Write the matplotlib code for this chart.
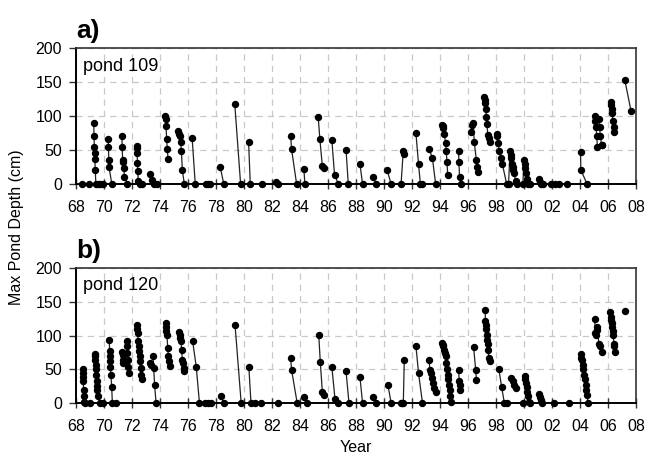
import matplotlib
matplotlib.use('Agg')
import matplotlib.pyplot as plt
import numpy as np

nan = np.nan

# pond 109 - nan separates the seasons
year_109 = [1968.40, nan, 1968.94, nan,
            1969.27, 1969.29, 1969.31, 1969.33, 1969.35, 1969.38, 1969.42, 1969.55, 1969.70, 1969.93, nan,
            1970.30, 1970.32, 1970.34, 1970.36, 1970.56, nan,
            1971.28, 1971.30, 1971.33, 1971.38, 1971.42, 1971.46, 1971.68, nan,
            1972.33, 1972.35, 1972.37, 1972.39, 1972.41, 1972.45, 1972.55, 1972.70, nan,
            1973.27, 1973.40, 1973.60, 1973.80, nan,
            1974.38, 1974.40, 1974.43, 1974.48, 1974.52, 1974.58, nan,
            1975.29, 1975.38, 1975.42, 1975.47, 1975.53, 1975.60, 1975.74, nan,
            1976.30, 1976.52, nan,
            1977.30, 1977.45, 1977.60, nan,
            1978.30, 1978.56, nan,
            1979.34, 1979.76, nan,
            1980.33, 1980.45, nan,
            1981.27, nan,
            1982.28, 1982.45, nan,
            1983.33, 1983.40, 1983.76, nan,
            1984.28, 1984.35, nan,
            1985.30, 1985.42, 1985.60, 1985.70, nan,
            1986.28, 1986.47, 1986.75, nan,
            1987.29, 1987.45, nan,
            1988.28, 1988.47, nan,
            1989.22, 1989.46, nan,
            1990.23, 1990.51, nan,
            1991.22, 1991.38, 1991.45, nan,
            1992.28, 1992.47, 1992.60, 1992.70, nan,
            1993.22, 1993.46, 1993.69, nan,
            1994.16, 1994.20, 1994.25, 1994.30, 1994.40, 1994.45, 1994.50, 1994.55, nan,
            1995.33, 1995.35, 1995.40, 1995.52, nan,
            1996.23, 1996.30, 1996.37, 1996.45, 1996.60, 1996.65, 1996.74, nan,
            1997.17, 1997.20, 1997.23, 1997.27, 1997.30, 1997.35, 1997.42, 1997.50, 1997.58, nan,
            1998.05, 1998.10, 1998.15, 1998.25, 1998.35, 1998.45, 1998.76, nan,
            1998.90, 1999.00, 1999.05, 1999.10, 1999.15, 1999.20, 1999.25, 1999.30, 1999.40, 1999.52, nan,
            1999.92, 2000.00, 2000.05, 2000.10, 2000.15, 2000.20, 2000.30, 2000.45, nan,
            2001.10, 2001.15, 2001.25, 2001.35, nan,
            2001.90, nan, 2002.20, nan, 2002.50, nan, 2003.10, nan,
            2004.04, 2004.06, 2004.50, nan,
            2005.05, 2005.10, 2005.15, 2005.20, 2005.25, nan,
            2005.35, 2005.40, 2005.45, 2005.55, 2005.60, nan,
            2006.20, 2006.23, 2006.27, 2006.30, 2006.35, 2006.40, 2006.45, nan,
            2007.20, 2007.65]
depth_109 = [0, nan, 0, nan,
             89, 71, 54, 45, 37, 20, 0, 0, 0, 0, nan,
             66, 54, 36, 25, 0, nan,
             70, 55, 36, 33, 24, 11, 0, nan,
             56, 53, 46, 31, 19, 4, 0, 0, nan,
             14, 6, 0, 0, nan,
             100, 95, 85, 66, 51, 37, nan,
             78, 73, 70, 62, 49, 20, 0, nan,
             67, 0, nan,
             0, 0, 0, nan,
             25, 0, nan,
             118, 0, nan,
             62, 0, nan,
             0, nan,
             3, 0, nan,
             71, 51, 0, nan,
             22, 0, nan,
             99, 66, 26, 24, nan,
             64, 13, 0, nan,
             50, 0, nan,
             30, 0, nan,
             10, 0, nan,
             20, 0, nan,
             0, 49, 44, nan,
             75, 29, 0, 0, nan,
             52, 38, 0, nan,
             87, 85, 82, 74, 61, 48, 33, 13, nan,
             48, 32, 11, 0, nan,
             77, 87, 89, 62, 35, 25, 18, nan,
             128, 123, 119, 111, 99, 88, 72, 67, 62, nan,
             74, 70, 60, 48, 38, 30, 0, nan,
             0, 48, 43, 38, 30, 25, 21, 16, 4, 0, nan,
             0, 35, 30, 23, 16, 8, 0, 0, nan,
             7, 3, 0, 0, nan,
             0, nan, 0, nan, 0, nan, 0, nan,
             47, 21, 0, nan,
             100, 92, 84, 70, 54, nan,
             96, 84, 70, 58, 57, nan,
             121, 116, 111, 104, 92, 84, 76, nan,
             153, 107]

# pond 120
year_120 = [1968.47, 1968.48, 1968.50, 1968.52, 1968.54, 1968.56, 1968.58, 1968.63, 1968.99, nan,
            1969.34, 1969.36, 1969.38, 1969.40, 1969.42, 1969.44, 1969.47, 1969.50, 1969.52, 1969.55, 1969.70, 1969.90, nan,
            1970.38, 1970.40, 1970.42, 1970.44, 1970.46, 1970.50, 1970.55, 1970.60, 1970.87, nan,
            1971.30, 1971.33, 1971.36, 1971.39, nan,
            1971.62, 1971.65, 1971.68, 1971.71, 1971.74, 1971.78, nan,
            1972.35, 1972.38, 1972.41, 1972.44, 1972.47, 1972.50, 1972.54, 1972.58, 1972.62, 1972.66, 1972.72, nan,
            1973.30, 1973.35, nan,
            1973.50, 1973.55, 1973.62, 1973.72, nan,
            1974.40, 1974.43, 1974.46, 1974.50, 1974.55, 1974.60, 1974.65, 1974.70, nan,
            1975.35, 1975.40, 1975.45, 1975.50, 1975.55, 1975.60, 1975.65, 1975.70, 1975.75, nan,
            1976.33, 1976.59, 1976.82, nan,
            1977.20, 1977.45, 1977.65, nan,
            1978.33, 1978.56, nan,
            1979.36, 1979.80, nan,
            1980.35, 1980.50, nan,
            1980.80, nan, 1981.25, nan, 1982.40, nan,
            1983.33, 1983.40, 1983.80, nan,
            1984.28, 1984.50, nan,
            1985.34, 1985.45, 1985.60, 1985.70, nan,
            1986.28, 1986.50, 1986.75, nan,
            1987.29, 1987.50, nan,
            1988.28, 1988.47, nan,
            1989.22, 1989.46, nan,
            1990.28, 1990.51, nan,
            1991.20, 1991.30, 1991.38, 1991.45, nan,
            1992.28, 1992.47, 1992.75, nan,
            1993.22, 1993.28, 1993.33, 1993.40, 1993.50, 1993.60, 1993.70, nan,
            1994.16, 1994.20, 1994.25, 1994.30, 1994.35, 1994.40, 1994.45, 1994.50, 1994.55, 1994.60, 1994.65, 1994.70, 1994.75, 1994.80, nan,
            1995.33, 1995.38, 1995.42, 1995.46, nan,
            1996.40, 1996.55, 1996.60, nan,
            1997.22, 1997.25, 1997.28, 1997.31, 1997.34, 1997.37, 1997.40, 1997.43, 1997.50, 1997.55, nan,
            1998.20, 1998.40, 1998.60, 1998.80, nan,
            1999.10, 1999.20, 1999.30, 1999.40, nan,
            1999.95, nan,
            2000.05, 2000.10, 2000.15, 2000.20, 2000.25, 2000.30, 2000.35, 2000.40, nan,
            2001.10, 2001.15, 2001.20, 2001.30, nan,
            2002.16, nan, 2003.20, nan,
            2004.04, 2004.10, 2004.15, 2004.20, 2004.25, 2004.30, 2004.35, 2004.40, 2004.45, 2004.50, 2004.58, nan,
            2005.05, 2005.10, 2005.12, 2005.20, 2005.25, 2005.35, 2005.40, 2005.55, nan,
            2006.15, 2006.20, 2006.23, 2006.26, 2006.30, 2006.35, 2006.38, 2006.42, 2006.46, 2006.50, nan,
            2007.22]
depth_120 = [50, 45, 39, 32, 20, 10, 2, 0, 0, nan,
             73, 69, 63, 57, 50, 42, 32, 25, 20, 11, 0, 0, nan,
             94, 77, 69, 62, 54, 41, 24, 0, 0, nan,
             76, 71, 64, 59, nan,
             92, 84, 74, 64, 54, 44, nan,
             116, 110, 104, 92, 84, 77, 69, 62, 52, 41, 36, nan,
             60, 56, nan,
             70, 52, 26, 0, nan,
             118, 113, 106, 101, 82, 69, 62, 55, nan,
             105, 101, 97, 92, 79, 64, 59, 52, 47, nan,
             92, 54, 0, nan,
             0, 0, 0, nan,
             10, 0, nan,
             116, 0, nan,
             53, 0, nan,
             0, nan, 0, nan, 0, nan,
             67, 49, 0, nan,
             9, 0, nan,
             101, 61, 16, 12, nan,
             53, 6, 0, nan,
             47, 0, nan,
             39, 0, nan,
             9, 0, nan,
             27, 0, nan,
             0, 0, 0, 64, nan,
             85, 44, 0, nan,
             64, 49, 44, 37, 29, 22, 17, nan,
             89, 86, 84, 79, 74, 69, 59, 50, 42, 35, 27, 20, 10, 2, nan,
             49, 32, 27, 20, nan,
             83, 49, 34, nan,
             138, 121, 115, 109, 101, 94, 87, 79, 67, 62, nan,
             51, 24, 0, 0, nan,
             37, 32, 27, 22, nan,
             0, nan,
             40, 35, 30, 24, 17, 10, 2, 0, nan,
             14, 9, 5, 0, nan,
             0, nan, 0, nan,
             72, 67, 64, 57, 50, 42, 35, 27, 20, 12, 0, nan,
             124, 103, 101, 113, 108, 88, 84, 76, nan,
             135, 128, 123, 118, 113, 106, 101, 88, 84, 76, nan,
             136]

x_ticks = list(range(1968, 2009, 2))
x_tick_labels = ['68', '70', '72', '74', '76', '78', '80', '82', '84', '86', '88',
                 '90', '92', '94', '96', '98', '00', '02', '04', '06', '08']
y_ticks = [0, 50, 100, 150, 200]

plt.rcParams['font.family'] = ['Liberation Sans', 'DejaVu Sans']

fig = plt.figure(figsize=(6.46, 4.54), dpi=100)
ax_a = fig.add_axes([0.1176, 0.5947, 0.8669, 0.2996])
ax_b = fig.add_axes([0.1176, 0.1123, 0.8669, 0.2974])


def draw_pond(ax, years, depths, name, letter):
    ax.plot(years, depths, '-o', color='#222222', lw=0.9, ms=4.3,
            markerfacecolor='black', markeredgecolor='black', zorder=3, clip_on=False)
    ax.set_xlim(1968, 2008)
    ax.set_ylim(0, 200)
    ax.set_xticks(x_ticks)
    ax.set_xticklabels(x_tick_labels)
    ax.set_yticks(y_ticks)
    ax.tick_params(axis='x', labelsize=11.5, direction='inout', length=7, width=1,
                   color='#333333', pad=8)
    ax.tick_params(axis='y', labelsize=11.5, direction='out', length=5, width=1,
                   color='#333333', pad=5)
    ax.grid(True, linestyle=(0, (5, 4)), color='#c8c8c8', lw=0.9)
    ax.set_axisbelow(True)
    for side in ['top', 'right']:
        ax.spines[side].set_color('#333333')
        ax.spines[side].set_linewidth(1.2)
    for side in ['left', 'bottom']:
        ax.spines[side].set_color('black')
        ax.spines[side].set_linewidth(1.4)
    ax.text(0.012, 0.93, name, transform=ax.transAxes, fontsize=13, va='top', ha='left')
    ax.text(0.0, 1.04, letter, transform=ax.transAxes, fontsize=19, fontweight='bold',
            va='bottom', ha='left')


draw_pond(ax_a, year_109, depth_109, 'pond 109', 'a)')
draw_pond(ax_b, year_120, depth_120, 'pond 120', 'b)')

ax_b.set_xlabel('Year', fontsize=11.5, labelpad=4)
fig.text(0.026, 0.5, 'Max Pond Depth (cm)', rotation=90, fontsize=11.5, va='center', ha='center')

plt.savefig('out.png', dpi=100)
